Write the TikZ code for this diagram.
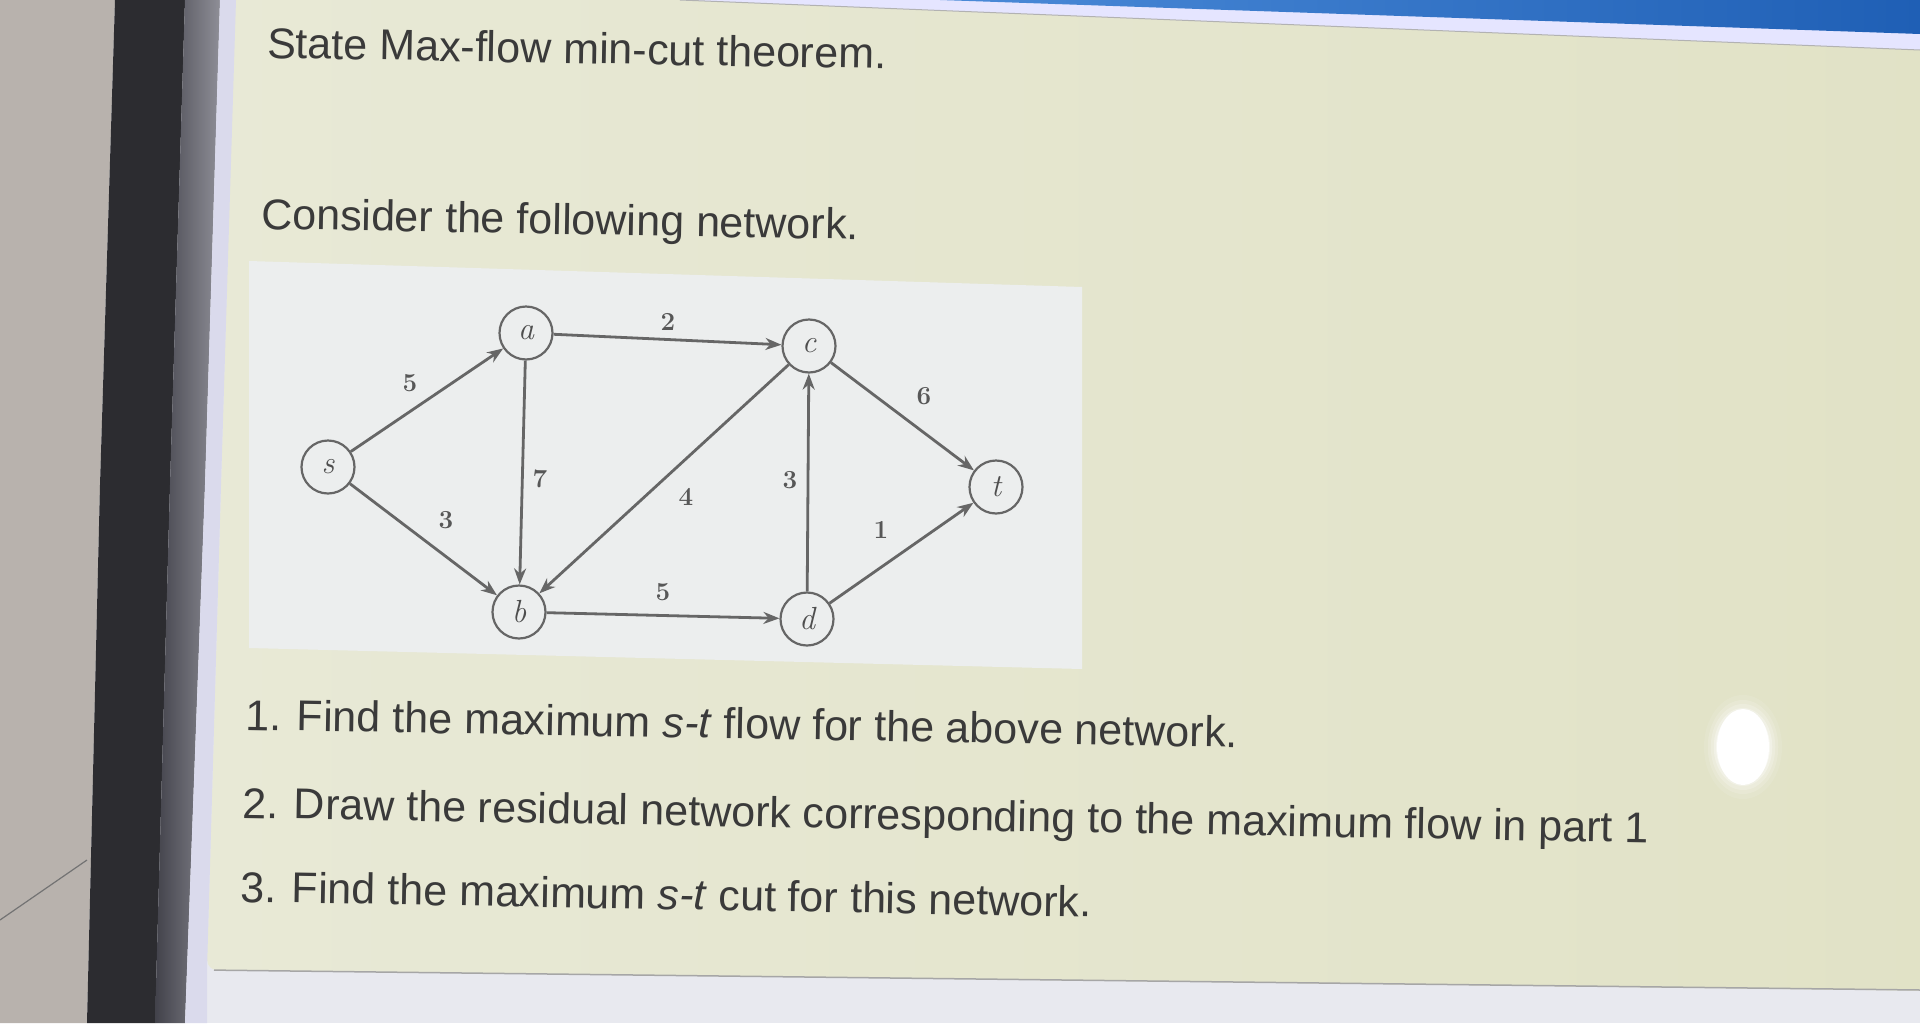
\documentclass[tikz,border=0pt]{standalone}
\usepackage{fontspec}
\newfontfamily\arial{Liberation Sans}
\usetikzlibrary{arrows.meta,shadings}
\definecolor{wall}{HTML}{B8B2AD}
\definecolor{bezel}{HTML}{2C2C30}
\definecolor{bezelgray}{HTML}{5E5E6A}
\definecolor{lav}{HTML}{DADAEC}
\definecolor{panelL}{HTML}{E8E9D6}
\definecolor{panelR}{HTML}{E1E2C6}
\definecolor{figbg}{HTML}{ECEEEE}
\definecolor{edgec}{HTML}{666666}
\definecolor{txt}{HTML}{3A3A3A}
\definecolor{scr}{HTML}{E8E9EF}
\definecolor{blueL}{HTML}{4A8AD8}
\definecolor{blueR}{HTML}{1F5FB5}
\tikzset{
  vtx/.style={circle, draw=edgec, line width=2.2pt, fill=figbg, minimum size=53pt, inner sep=0pt,
    font=\fontsize{32}{32}\selectfont\itshape, text=txt!90},
  flowedge/.style={draw=edgec, line width=2.8pt, -{Stealth[length=16pt,width=12pt]}},
  caplabel/.style={font=\fontsize{26}{26}\selectfont\bfseries, text=txt!85, inner sep=0pt},
  qtext/.style={font=\arial\fontsize{43}{50}\selectfont, text=txt, anchor=base west, inner sep=0pt, rotate=-1},
}
\begin{document}
\begin{tikzpicture}[x=1pt,y=-1pt]
\useasboundingbox (0,0) rectangle (1920,1023);
% screen background
\fill[scr] (0,0) rectangle (1920,1023);
% panel
\shade[left color=panelL, right color=panelR, rounded corners=10pt]
  (236,-30) -- (1950,-30) -- (1950,991) -- (207,970) -- cycle;
\draw[gray!70, line width=1.5pt] (214,970.1) -- (1920,990);
% top band and blue bar
\fill[white!90!blue] (680,0) -- (1920,0) -- (1920,50) -- cycle;
\draw[gray!60, line width=1pt] (680,0) -- (1920,50);
\shade[left color=blueL, right color=blueR] (940,0) -- (1920,0) -- (1920,34) -- cycle;
% wall
\fill[wall] (0,0) -- (115,0) -- (100,485) -- (87,1023) -- (0,1023) -- cycle;
\draw[black!55, line width=1.2pt] (0,920) -- (87,860);
% bezel
\fill[bezel] (115,0) -- (185,0) -- (170,485) -- (155,1023) -- (87,1023) -- (100,485) -- cycle;
\shade[left color=bezelgray!70!black, right color=bezelgray!70!white]
  (185,0) -- (220,0) -- (205,485) -- (185,1023) -- (155,1023) -- (170,485) -- cycle;
\fill[lav] (220,0) -- (236,0) -- (221,485) -- (207,970) -- (207,1023) -- (185,1023) -- (205,485) -- cycle;
% glare
\foreach \r/\o in {52/0.10, 47/0.15, 43/0.2, 39/0.3, 36/0.45}
  \fill[white, opacity=\o] (1743,747) ellipse ({\r*0.75 pt} and {\r pt});
\fill[white] (1743,747) ellipse (26pt and 38pt);
% figure box
\fill[figbg] (249,261) -- (1082,287) -- (1082,669) -- (249,648) -- cycle;
% texts
\node[qtext] (q1) at (267,58) {State Max-flow min-cut theorem.};
\node[qtext] (q2) at (261,229) {Consider the following network.};
\node[qtext] (p1) at (245,730) {1. Find the maximum \textit{s-t} flow for the above network.};
\node[qtext] (p2) at (242,818) {2. Draw the residual network corresponding to the maximum flow in part 1};
\node[qtext] (p3) at (240,902) {3. Find the maximum \textit{s-t} cut for this network.};
% graph
\node[vtx] (s) at (328,467) {s};
\node[vtx] (a) at (526,333) {a};
\node[vtx] (c) at (809,346) {c};
\node[vtx] (t) at (996,487) {t};
\node[vtx] (b) at (519,612) {b};
\node[vtx] (d) at (807,619) {d};
\draw[flowedge] (s) -- (a);
\draw[flowedge] (s) -- (b);
\draw[flowedge] (a) -- (c);
\draw[flowedge] (a) -- (b);
\draw[flowedge] (c) -- (b);
\draw[flowedge] (b) -- (d);
\draw[flowedge] (d) -- (c);
\draw[flowedge] (c) -- (t);
\draw[flowedge] (d) -- (t);
\node[caplabel] (l1) at (410,383) {5};
\node[caplabel] (l2) at (446,520) {3};
\node[caplabel] (l3) at (540,479) {7};
\node[caplabel] (l4) at (668,322) {2};
\node[caplabel] (l5) at (686,497) {4};
\node[caplabel] (l6) at (790,480) {3};
\node[caplabel] (l7) at (924,396) {6};
\node[caplabel] (l8) at (881,530) {1};
\node[caplabel] (l9) at (663,592) {5};
\end{tikzpicture}
\end{document}
